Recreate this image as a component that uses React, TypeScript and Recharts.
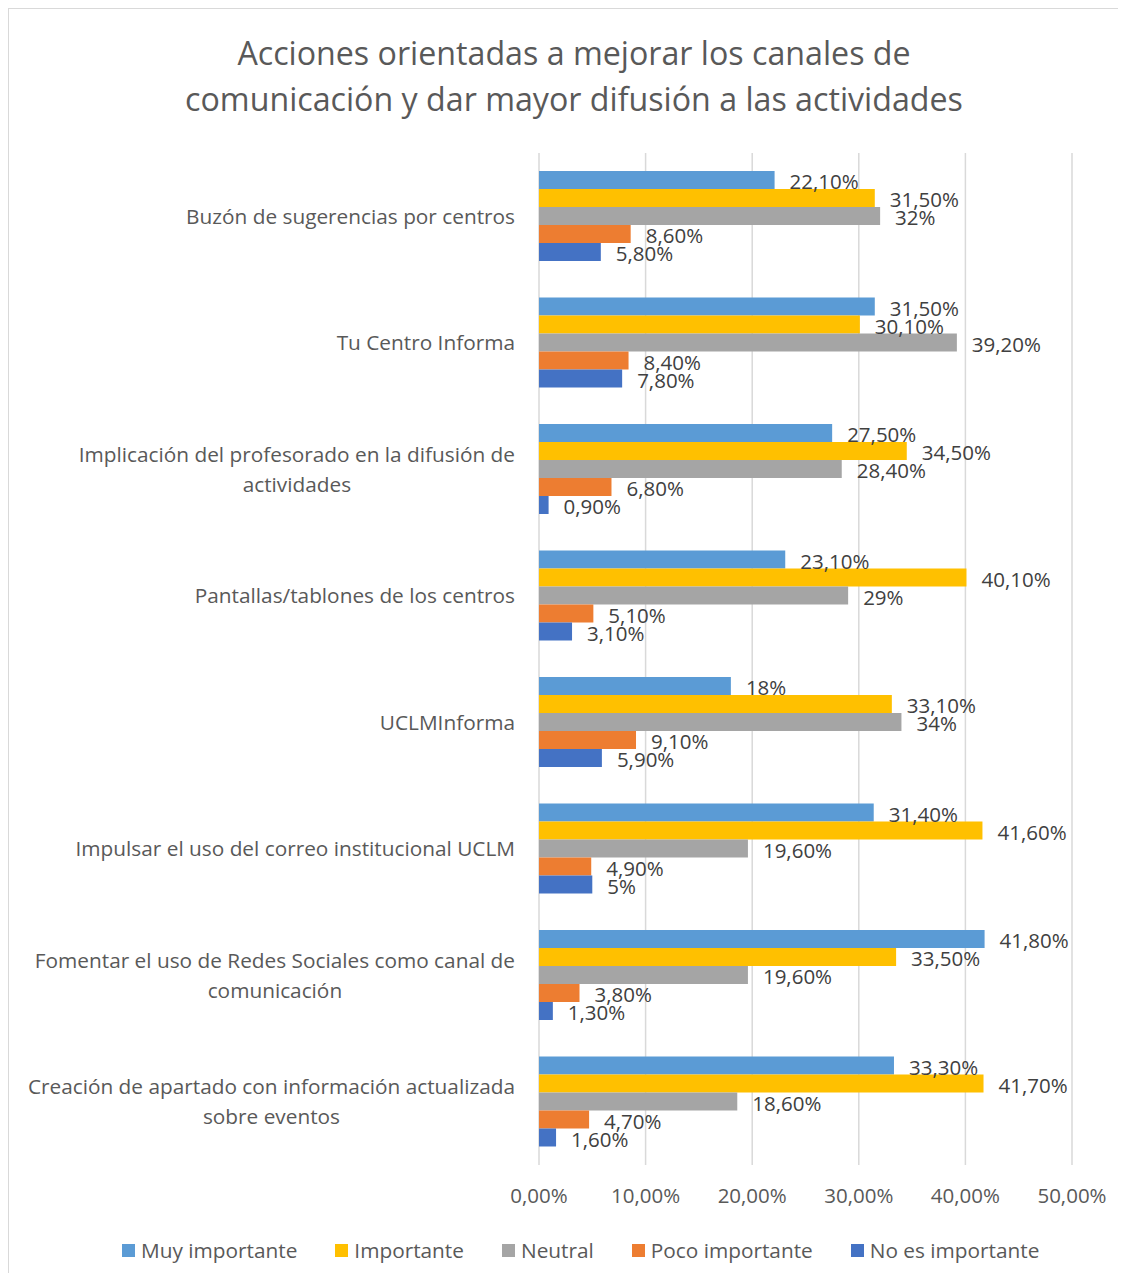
import { BarChart, Bar, XAxis, YAxis, CartesianGrid, LabelList } from "recharts";

const CATEGORIES = [
  "Buzón de sugerencias por centros",
  "Tu Centro Informa",
  "Implicación del profesorado en la difusión de\nactividades",
  "Pantallas/tablones de los centros",
  "UCLMInforma",
  "Impulsar el uso del correo institucional UCLM",
  "Fomentar el uso de Redes Sociales como canal de\ncomunicación",
  "Creación de apartado con información actualizada\nsobre eventos",
];

const MUY_IMPORTANTE = [22.1, 31.5, 27.5, 23.1, 18, 31.4, 41.8, 33.3];
const IMPORTANTE = [31.5, 30.1, 34.5, 40.1, 33.1, 41.6, 33.5, 41.7];
const NEUTRAL = [32, 39.2, 28.4, 29, 34, 19.6, 19.6, 18.6];
const POCO_IMPORTANTE = [8.6, 8.4, 6.8, 5.1, 9.1, 4.9, 3.8, 4.7];
const NO_ES_IMPORTANTE = [5.8, 7.8, 0.9, 3.1, 5.9, 5, 1.3, 1.6];

const X_TICKS = [0, 10, 20, 30, 40, 50];

const SERIES = [
  { key: "muy", name: "Muy importante", color: "#5B9BD5", values: MUY_IMPORTANTE },
  { key: "imp", name: "Importante", color: "#FFC000", values: IMPORTANTE },
  { key: "neu", name: "Neutral", color: "#A5A5A5", values: NEUTRAL },
  { key: "poco", name: "Poco importante", color: "#ED7D31", values: POCO_IMPORTANTE },
  { key: "no", name: "No es importante", color: "#4472C4", values: NO_ES_IMPORTANTE },
];

const FONT = '"Open Sans", sans-serif';
const TEXT = "#595959";
const LABEL_SIZE = 20.5;
const CAT_SIZE = 20.8;

const data = CATEGORIES.map((cat, i) => {
  const row: Record<string, string | number> = { cat };
  SERIES.forEach((s) => (row[s.key] = s.values[i]));
  return row;
});

const fmtPct = (v: number) =>
  Number.isInteger(v) ? `${v}%` : `${v.toFixed(2).replace(".", ",")}%`;

let ctx: CanvasRenderingContext2D | null = null;
function measure(text: string, size: number) {
  if (!ctx) ctx = document.createElement("canvas").getContext("2d");
  if (!ctx) return text.length * size * 0.55;
  ctx.font = `${size}px "Open Sans"`;
  return ctx.measureText(text).width;
}

function CategoryTick(props: any) {
  const { x, y, payload } = props;
  const lines: string[] = String(payload.value).split("\n");
  const lh = 30;
  const y0 = y - ((lines.length - 1) * lh) / 2;
  const w0 = measure(lines[0], CAT_SIZE);
  return (
    <g>
      {lines.map((ln, i) => (
        <text
          key={i}
          x={i === 0 ? x : x - w0 / 2}
          y={y0 + i * lh}
          dy="0.35em"
          textAnchor={i === 0 ? "end" : "middle"}
          fill={TEXT}
          fontSize={CAT_SIZE}
          fontFamily={FONT}
        >
          {ln}
        </text>
      ))}
    </g>
  );
}

function ValueLabel(props: any) {
  const { x, y, width, height, value } = props;
  return (
    <text
      x={x + width + 15}
      y={y + height / 2 + 2}
      dy="0.35em"
      fill="#404040"
      fontSize={LABEL_SIZE}
      fontFamily={FONT}
    >
      {fmtPct(value)}
    </text>
  );
}

export default function App() {
  return (
    <div
      style={{
        position: "relative",
        width: 1110,
        height: 1265,
        boxSizing: "border-box",
        borderTop: "1px solid #D9D9D9",
        borderLeft: "1px solid #D9D9D9",
        fontFamily: FONT,
        background: "#fff",
      }}
    >
      <div
        style={{
          position: "absolute",
          top: 21,
          left: 0,
          width: 1130,
          textAlign: "center",
          fontSize: 32.2,
          lineHeight: "46px",
          color: TEXT,
        }}
      >
        Acciones orientadas a mejorar los canales de
        <br />
        comunicación y dar mayor difusión a las actividades
      </div>
      <BarChart
        width={1109}
        height={1200}
        data={data}
        layout="vertical"
        margin={{ top: 144, right: 46, bottom: 0, left: 0 }}
        barSize={18}
        barGap={0}
      >
        <CartesianGrid horizontal={false} stroke="#D9D9D9" strokeWidth={1.5} />
        <XAxis
          type="number"
          domain={[0, 50]}
          ticks={X_TICKS}
          tickFormatter={(v: number) => `${v.toFixed(2).replace(".", ",")}%`}
          axisLine={false}
          tickLine={false}
          tickSize={0}
          tickMargin={23}
          height={44}
          tick={{ fill: TEXT, fontSize: LABEL_SIZE, fontFamily: FONT }}
        />
        <YAxis
          type="category"
          dataKey="cat"
          width={530}
          axisLine={false}
          tickLine={false}
          tickSize={0}
          tickMargin={24}
          interval={0}
          tick={<CategoryTick />}
        />
        {SERIES.map((s) => (
          <Bar key={s.key} dataKey={s.key} name={s.name} fill={s.color} isAnimationActive={false}>
            <LabelList dataKey={s.key} content={<ValueLabel />} />
          </Bar>
        ))}
      </BarChart>
      <div
        style={{
          position: "absolute",
          top: 1227,
          left: 113,
          display: "flex",
          alignItems: "center",
          fontSize: CAT_SIZE,
          color: TEXT,
          whiteSpace: "nowrap",
        }}
      >
        {SERIES.map((s) => (
          <div key={s.key} style={{ display: "flex", alignItems: "center", marginRight: 38 }}>
            <span style={{ width: 13, height: 13, background: s.color, marginRight: 6, display: "inline-block" }} />
            <span>{s.name}</span>
          </div>
        ))}
      </div>
    </div>
  );
}
